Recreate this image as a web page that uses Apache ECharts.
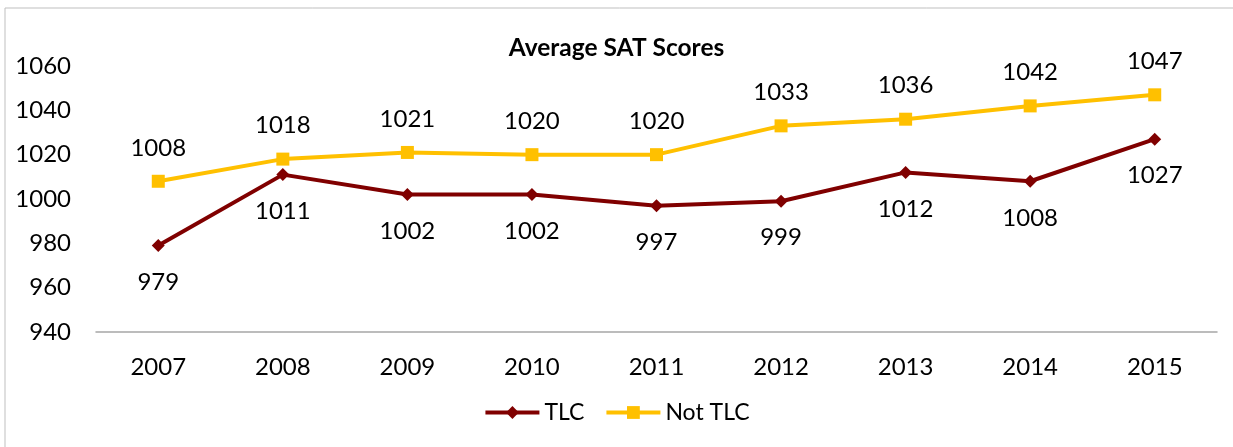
<!DOCTYPE html>
<html>
<head>
<meta charset="utf-8">
<script src="https://cdn.jsdelivr.net/npm/echarts@6/dist/echarts.min.js"></script>
<style>
  html, body { margin: 0; padding: 0; background: #fff; }
  #chart { width: 1233px; height: 447px; }
</style>
</head>
<body>
<div id="chart"></div>
<script>
// data
var years = ['2007', '2008', '2009', '2010', '2011', '2012', '2013', '2014', '2015'];
var tlc = [979, 1011, 1002, 1002, 997, 999, 1012, 1008, 1027];
var notTlc = [1008, 1018, 1021, 1020, 1020, 1033, 1036, 1042, 1047];

var font = 'Lato, "Open Sans", sans-serif';
var chart = echarts.init(document.getElementById('chart'));

chart.setOption({
  animation: false,
  textStyle: { fontFamily: font },
  title: {
    text: 'Average SAT Scores',
    left: 'center',
    top: 31,
    textStyle: { fontSize: 24.5, fontWeight: 'bold', color: '#000', fontFamily: font }
  },
  // chart area border (top + left only visible)
  graphic: [{
    type: 'rect',
    shape: { x: 5, y: 8, width: 1300, height: 500 },
    style: { fill: 'none', stroke: '#bfbfbf', lineWidth: 1 },
    silent: true
  }],
  grid: { left: 96, right: 16, top: 66, bottom: 115 },
  legend: {
    bottom: 18,
    left: 'center',
    itemWidth: 54,
    itemHeight: 16,
    itemGap: 20,
    lineStyle: { width: 4 },
    textStyle: { fontSize: 23, color: '#000', fontFamily: font },
    data: ['TLC', 'Not TLC']
  },
  xAxis: {
    type: 'category',
    data: years,
    axisLine: { lineStyle: { color: '#a6a6a6', width: 1.5 } },
    axisTick: { show: false },
    axisLabel: { color: '#000', fontSize: 24, margin: 23, fontFamily: font }
  },
  yAxis: {
    type: 'value',
    min: 940,
    max: 1060,
    interval: 20,
    splitLine: { show: false },
    axisLine: { show: false },
    axisTick: { show: false },
    axisLabel: {
      color: '#000', fontSize: 24, margin: 25, fontFamily: font,
      formatter: function (v) { return String(v); }
    }
  },
  series: [{
    name: 'TLC',
    type: 'line',
    data: tlc,
    symbol: 'diamond',
    symbolSize: 13,
    color: '#800000',
    lineStyle: { width: 4, color: '#800000' },
    itemStyle: { color: '#800000' },
    label: {
      show: true,
      position: 'bottom',
      distance: 18,
      fontSize: 24,
      color: '#000',
      fontFamily: font
    }
  }, {
    name: 'Not TLC',
    type: 'line',
    data: notTlc,
    symbol: 'rect',
    symbolSize: 13,
    color: '#ffc000',
    lineStyle: { width: 4, color: '#ffc000' },
    itemStyle: { color: '#ffc000' },
    label: {
      show: true,
      position: 'top',
      distance: 15,
      fontSize: 24,
      color: '#000',
      fontFamily: font
    }
  }]
});
</script>
</body>
</html>
